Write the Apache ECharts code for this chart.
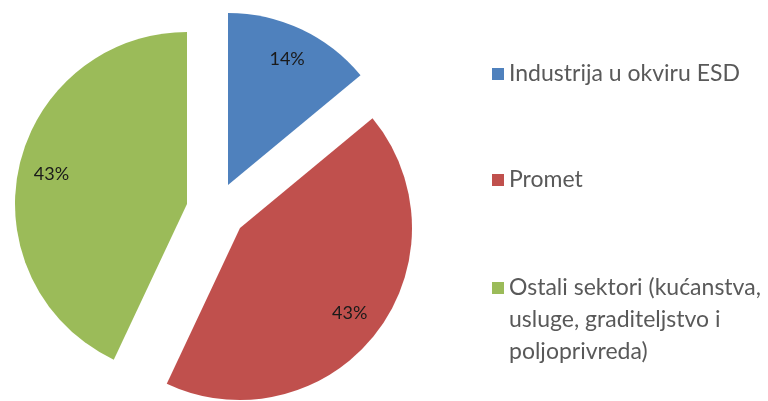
<!DOCTYPE html>
<html>
<head>
<meta charset="utf-8">
<script src="https://cdn.jsdelivr.net/npm/echarts@6/dist/echarts.min.js"></script>
<style>
html,body{margin:0;padding:0;background:#fff;}
#chart{width:768px;height:401px;}
</style>
</head>
<body>
<div id="chart"></div>
<script>
// Data
const categories = ['Industrija u okviru ESD', 'Promet', 'Ostali sektori (kućanstva, usluge, graditeljstvo i poljoprivreda)'];
const shares = [14, 43, 43];
const percentLabels = ['14%', '43%', '43%'];

// Styling (positions / colors)
const colors = ['#4F81BD', '#C0504D', '#9BBB59'];
const sliceCenters = [[228, 185], [240, 228], [187, 204]];
const R = 172;
const legendTops = [62, 168, 208];
const LEGEND_FONT_SIZE = 23;
const LEGEND_WRAP = 268;

const FONT = 'Lato, "Open Sans", sans-serif';

// word wrap helper (no leading spaces on wrapped lines)
function wrapWords(text, maxWidth, font) {
  const ctx = document.createElement('canvas').getContext('2d');
  ctx.font = font;
  const words = text.split(' ');
  const lines = [];
  let cur = '';
  words.forEach(function (w) {
    const test = cur ? cur + ' ' + w : w;
    if (cur && ctx.measureText(test).width > maxWidth) {
      lines.push(cur);
      cur = w;
    } else {
      cur = test;
    }
  });
  if (cur) lines.push(cur);
  return lines.join('\n');
}

const series = [];
categories.forEach(function (cat, i) {
  // visible slice
  series.push({
    type: 'pie',
    center: sliceCenters[i],
    radius: [0, R],
    startAngle: 90,
    clockwise: true,
    silent: true,
    avoidLabelOverlap: false,
    label: { show: false },
    labelLine: { show: false },
    emphasis: { disabled: true },
    data: categories.map(function (c, j) {
      return {
        name: c, value: shares[j],
        itemStyle: { color: j === i ? colors[j] : 'rgba(0,0,0,0)', borderWidth: 0 }
      };
    })
  });
  // label carrier
  series.push({
    type: 'pie',
    center: sliceCenters[i],
    radius: [R * 0.58, R],
    startAngle: 90,
    clockwise: true,
    silent: true,
    avoidLabelOverlap: false,
    labelLine: { show: false },
    emphasis: { disabled: true },
    data: categories.map(function (c, j) {
      return {
        name: c, value: shares[j],
        itemStyle: { color: 'rgba(0,0,0,0)', borderWidth: 0 },
        label: {
          show: j === i,
          position: 'inside',
          formatter: percentLabels[j],
          color: '#1a1a1a',
          fontSize: 18,
          fontFamily: FONT
        }
      };
    })
  });
});

const legends = categories.map(function (c, i) {
  const multi = i === 2;
  return {
    orient: 'vertical',
    left: 492,
    top: legendTops[i],
    padding: 0,
    itemWidth: 12,
    itemHeight: 12,
    icon: 'rect',
    selectedMode: false,
    formatter: multi ? function (name) {
      return '\n\n' + wrapWords(name, LEGEND_WRAP, LEGEND_FONT_SIZE + 'px Lato');
    } : '{name}',
    data: [{
      name: c,
      itemStyle: { color: colors[i] },
      textStyle: multi ? { lineHeight: 32 } : {}
    }],
    textStyle: {
      color: '#595959',
      fontSize: LEGEND_FONT_SIZE,
      fontFamily: FONT,
      lineHeight: 24
    }
  };
});

const chart = echarts.init(document.getElementById('chart'), null, { renderer: 'canvas' });
chart.setOption({
  animation: false,
  backgroundColor: '#ffffff',
  legend: legends,
  series: series
});
</script>
</body>
</html>
